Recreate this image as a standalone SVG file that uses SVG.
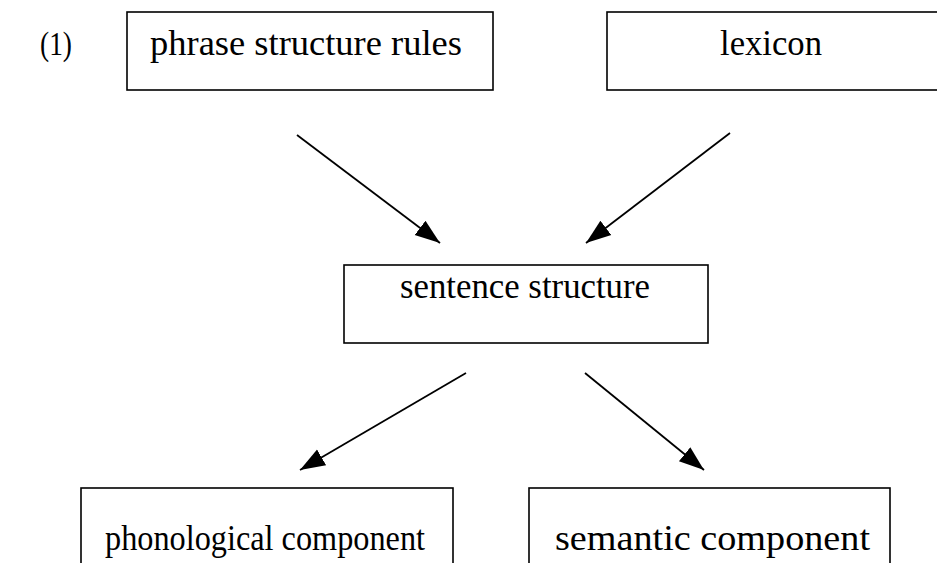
<svg xmlns="http://www.w3.org/2000/svg" width="937" height="563" viewBox="0 0 937 563">
<style>
.box{fill:#fff;stroke:#000;stroke-width:1.6}
.lbl{font-family:"Liberation Serif","Times New Roman",serif;font-size:35px;fill:#000}
.num{font-family:"Liberation Serif","Times New Roman",serif;font-size:33px;fill:#000}
.edge{stroke:#000;stroke-width:1.8;fill:none}
</style>
<defs>
<marker id="ah" markerUnits="userSpaceOnUse" markerWidth="28" markerHeight="22" viewBox="0 0 28 22" refX="25" refY="11" orient="auto">
<path d="M0,2 L25,11 L0,20 Z" fill="#000"/>
</marker>
</defs>
<rect width="937" height="563" fill="#fff"/>
<text class="num" x="40" y="55" textLength="32" lengthAdjust="spacingAndGlyphs">(1)</text>
<g id="psr">
<rect class="box" x="127" y="12" width="366" height="78"/>
<text class="lbl" x="150" y="55" textLength="312" lengthAdjust="spacingAndGlyphs">phrase structure rules</text>
</g>
<g id="lexicon">
<rect class="box" x="607" y="12" width="340" height="78"/>
<text class="lbl" x="720" y="55" textLength="102" lengthAdjust="spacingAndGlyphs">lexicon</text>
</g>
<g id="sentence">
<rect class="box" x="344" y="265" width="364" height="78"/>
<text class="lbl" x="400" y="298" textLength="250" lengthAdjust="spacingAndGlyphs">sentence structure</text>
</g>
<g id="phon">
<rect class="box" x="81" y="488" width="372" height="90"/>
<text class="lbl" x="105" y="550" textLength="320" lengthAdjust="spacingAndGlyphs">phonological component</text>
</g>
<g id="sem">
<rect class="box" x="529" y="488" width="361" height="90"/>
<text class="lbl" x="555" y="550" textLength="315" lengthAdjust="spacingAndGlyphs">semantic component</text>
</g>
<g id="connectors">
<line class="edge" x1="297" y1="135" x2="440" y2="243" marker-end="url(#ah)"/>
<line class="edge" x1="730" y1="133" x2="586" y2="243" marker-end="url(#ah)"/>
<line class="edge" x1="466" y1="373" x2="300" y2="470" marker-end="url(#ah)"/>
<line class="edge" x1="585" y1="373" x2="704" y2="470" marker-end="url(#ah)"/>
</g>
</svg>
